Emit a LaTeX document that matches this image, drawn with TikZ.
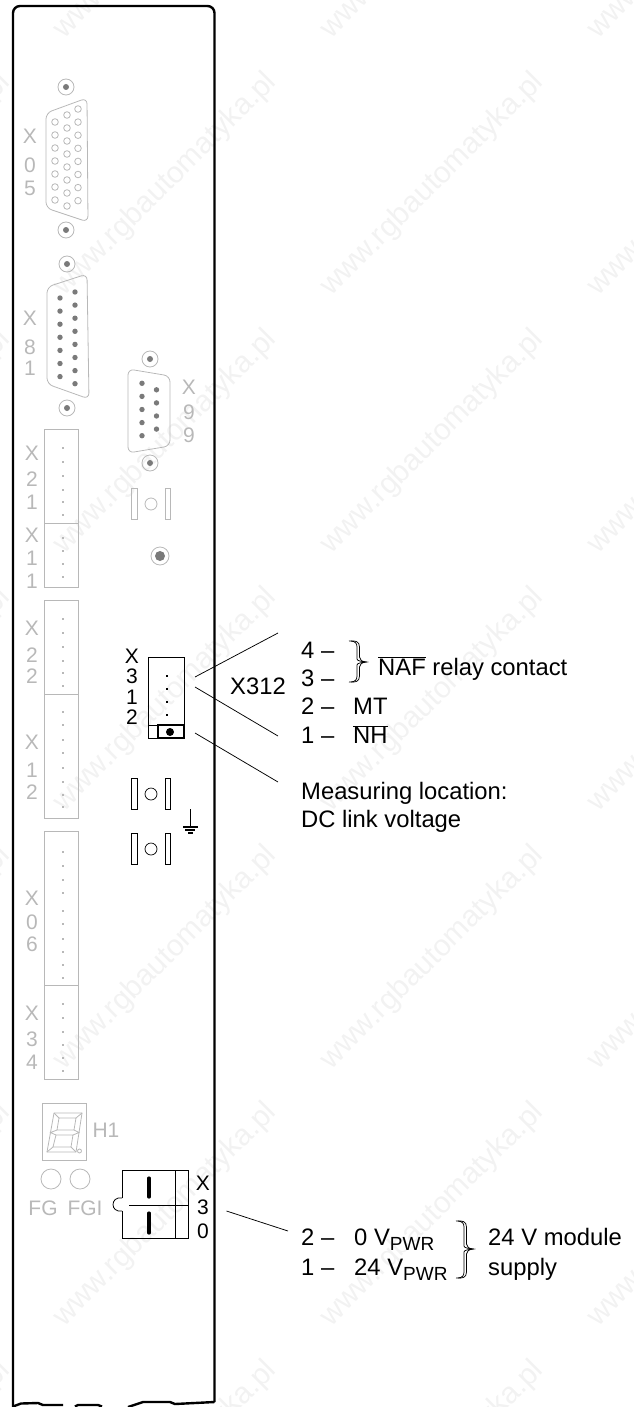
\documentclass[tikz,border=0pt]{standalone}
\usepackage{fontspec}
\setmainfont{Liberation Sans}
\definecolor{panelgray}{gray}{0.72}
\definecolor{taggray}{gray}{0.72}
\definecolor{pingray}{gray}{0.48}
\definecolor{markgray}{gray}{0.95}
\tikzset{
  panel/.style={draw=panelgray,line width=0.8pt},
  lead/.style={draw=black,line width=0.75pt},
  frameline/.style={draw=black,line width=2.4pt},
  lab/.style={anchor=base west,inner sep=0pt,font=\fontsize{23.8}{28}\selectfont},
  tag/.style={anchor=base,inner sep=0pt,text=taggray,font=\fontsize{21}{24}\selectfont},
  blk/.style={anchor=base,inner sep=0pt,font=\fontsize{21}{24}\selectfont},
  webmark/.style={inner sep=0pt,rotate=45,text=markgray,font=\fontsize{30}{32}\selectfont}
}
\newcommand{\rowdots}[2]{\foreach \y in {#2} \fill[panelgray] (#1-1,\y-1) rectangle (#1+1,\y+1);}
\newcommand{\openbrace}[4]{
  \draw[lead] (#1,#2) .. controls (#1+6,#2-.5) and (#1+10.5,#2) .. (#1+10.5,#2+6) -- (#1+10.5,#3-5)
    .. controls (#1+10.5,#3-2) and (#1+13,#3-.5) .. (#1+17,#3)
    .. controls (#1+13,#3+.5) and (#1+10.5,#3+2) .. (#1+10.5,#3+5) -- (#1+10.5,#4-6)
    .. controls (#1+10.5,#4) and (#1+6,#4+.5) .. (#1,#4);
  \draw[lead] (#1+2,#2) .. controls (#1+6,#2+.5) and (#1+8,#2+2) .. (#1+8,#2+6) -- (#1+8,#3-3)
    .. controls (#1+8,#3-1) and (#1+13,#3-.5) .. (#1+17,#3)
    .. controls (#1+13,#3+.5) and (#1+8,#3+1) .. (#1+8,#3+3) -- (#1+8,#4-6)
    .. controls (#1+8,#4-2) and (#1+6,#4-.5) .. (#1+2,#4);
}
\newcommand{\latchpair}[3]{
  \draw[#3] (131.7,#1) rectangle (137,#1+31);
  \draw[#3] (165.5,#1) rectangle (170.5,#1+31);
  \draw[#3] (151,#2) circle (6pt);
}
\begin{document}
\begin{tikzpicture}[x=1pt,y=-1pt]
  \useasboundingbox (0,0) rectangle (633,1407);
  % web address printed across the sheet
  \begin{scope}
    \clip (0,0) rectangle (633,1407);
    \foreach \a in {-101,165.5,432.5,699.5}
      \foreach \b in {-73,184.7,442.4,700,958,1215,1473}
        \node[webmark] at (\a,\b) {www.rgbautomatyka.pl};
  \end{scope}

  % front plate
  \draw[frameline,rounded corners=7pt] (13,1410) -- (13,6) -- (214.5,6) -- (214.5,1402);
  \draw[frameline] (214.5,1402) -- (175,1404) -- (170,1402) -- (143,1402) -- (128,1407);
  \draw[frameline] (13,1406.5) -- (21,1403.5) -- (38,1403) -- (43,1405) -- (63,1405);
  \draw[frameline] (75,1406.5) -- (78,1405) -- (98,1405) -- (102,1406.5);

  % sub-D connectors
  \draw[panel,rounded corners=6pt] (46,113) -- (87,98) -- (88,222) -- (46,208) -- cycle;
  \foreach \y in {0,...,7} \draw[panel] (78,109+13.1*\y) circle (3.3pt);
  \foreach \y in {0,...,7} \draw[panel] (67,115+13*\y) circle (3.3pt);
  \foreach \y in {0,...,6} \draw[panel] (55,122+13*\y) circle (3.3pt);
  \draw[panel,rounded corners=6pt] (47,287) -- (87,274) -- (89,399) -- (47,384) -- cycle;
  \foreach \y in {0,...,7} \fill[pingray] (75,292+13.1*\y) circle (2.7pt);
  \foreach \y in {0,...,6} \fill[pingray] (60,298+13.1*\y) circle (2.7pt);
  \draw[panel,rounded corners=6pt] (128,369) -- (170,376) -- (170,446) -- (128,453) -- cycle;
  \foreach \y in {0,...,4} \fill[pingray] (142,383.3+13.1*\y) circle (2.7pt);
  \foreach \y in {0,...,3} \fill[pingray] (156.5,389.8+13.1*\y) circle (2.7pt);
  \foreach \a/\b in {66/87,66/230,67/264,67/408,150/359,150/463} {
    \draw[panel] (\a,\b) circle (8pt);
    \fill[pingray] (\a,\b) circle (3pt);
  }
  \draw[panel] (160,556) circle (9pt);
  \fill[pingray] (160,556) circle (5pt);
  \latchpair{488}{504}{panel}

  % terminal blocks
  \draw[panel] (44.5,429) rectangle (78.5,523);
  \draw[panel] (44.5,523) rectangle (78.5,587);
  \draw[panel] (44.5,600) rectangle (78.5,694);
  \draw[panel] (44.5,694) rectangle (78.5,818);
  \draw[panel] (44.5,831) rectangle (78.5,985);
  \draw[panel] (44.5,985) rectangle (78.5,1079);
  \rowdots{63}{448,462,476,490,502,515,538,551,564,577}
  \rowdots{63}{619,633,647,661,673,686,712,725,740,753,768,782,795,807}
  \rowdots{63}{852,866,880,893,911,924,939,952,965,978,1004,1018,1032,1045,1058,1071}

  % grey connector names
  \draw
    (30,144) node[tag] (x05a){X} (30,172) node[tag] (x05b){0} (30,196) node[tag] (x05c){5}
    (30,325) node[tag] (x81a){X} (30,354) node[tag] (x81b){8} (30,375) node[tag] (x81c){1}
    (189,394) node[tag] (x99a){X} (189,419) node[tag] (x99b){9} (189,442) node[tag] (x99c){9}
    (32,460) node[tag] (x21a){X} (32,486) node[tag] (x21b){2} (32,509) node[tag] (x21c){1}
    (32,542) node[tag] (x11a){X} (32,565) node[tag] (x11b){1} (32,588) node[tag] (x11c){1}
    (32,635) node[tag] (x22a){X} (32,662) node[tag] (x22b){2} (32,683) node[tag] (x22c){2}
    (32,749) node[tag] (x12a){X} (32,777) node[tag] (x12b){1} (32,799) node[tag] (x12c){2}
    (32,905) node[tag] (x06a){X} (32,929) node[tag] (x06b){0} (32,951) node[tag] (x06c){6}
    (32,1020) node[tag] (x34a){X} (32,1046) node[tag] (x34b){3} (32,1069) node[tag] (x34c){4}
    (106,1137) node[tag] (h1){H1}
    (43,1215) node[tag] (fg){FG}
    (85,1215) node[tag] (fgi){FGI};

  % display and LEDs
  \draw[panel] (42.3,1103) rectangle (86,1160);
  \draw[panel,line join=round] (54,1113) -- (82,1113) -- (79,1132.5) -- (76,1152) -- (47,1152) -- (50.5,1132.5) -- cycle;
  \draw[panel] (59,1118) -- (76,1118) -- (74,1130) -- (57,1130) -- cycle;
  \draw[panel] (56,1135) -- (73,1135) -- (71,1147) -- (53,1147) -- cycle;
  \draw[panel] (54,1113) -- (59,1118) (82,1113) -- (76,1118) (57,1130) -- (50.5,1132.5) -- (56,1135)
    (74,1130) -- (79,1132.5) -- (73,1135) (53,1147) -- (47,1152) (71,1147) -- (76,1152);
  \draw[panel] (79.5,1151) circle (2pt);
  \draw[panel] (51,1179) circle (10pt);
  \draw[panel] (80,1179) circle (10pt);

  % X312 block
  \draw[line width=0.7pt] (148,657) rectangle (184,738);
  \draw[line width=0.7pt] (148,725) -- (184,725);
  \draw[line width=1.6pt] (158,725) rectangle (184,738);
  \fill (170,732) circle (4pt);
  \foreach \y in {676,689,702,715} \fill (166,\y-1.2) rectangle (168.4,\y+1.2);
  \draw
    (132,663) node[blk] (x312a){X} (132,683.5) node[blk] (x312b){3}
    (132,704) node[blk] (x312c){1} (132,724.5) node[blk] (x312d){2};
  \latchpair{778}{794}{line width=0.7pt}
  \latchpair{833}{849}{line width=0.7pt}

  % protective earth
  \coordinate (pe1) at (190,809);
  \coordinate (pe2) at (190,827);
  \draw[line width=0.9pt] (pe1) -- (pe2);
  \draw[line width=1.4pt] (183,827) -- (198,827) (185,830) -- (195,830) (188,833) -- (193,833);

  % X30 block
  \draw[line width=0.8pt] (122,1198) -- (122,1170) -- (188,1170) -- (188,1238) -- (122,1238) -- (122,1211);
  \draw[line width=0.8pt] (122,1198) .. controls (110,1196) and (110,1213) .. (122,1211);
  \draw[line width=0.8pt] (175,1170) -- (175,1238);
  \draw[line width=0.8pt] (129,1205) -- (188,1205);
  \draw[line width=3.2pt,line cap=round] (149,1178) -- (149,1197) (149,1213) -- (149,1233);
  \draw
    (203,1190.5) node[blk] (x30a){X} (203,1214) node[blk] (x30b){3} (203,1238) node[blk] (x30c){0};

  % leader ends
  \coordinate (l1a) at (195,677);
  \coordinate (l1b) at (278,633);
  \coordinate (l2a) at (195,687);
  \coordinate (l2b) at (278,736);
  \coordinate (l3a) at (195,733);
  \coordinate (l3b) at (278,782);
  \coordinate (l4a) at (226.5,1211);
  \coordinate (l4b) at (288,1231);
  \begin{scope}[-]
    \draw[lead] (l1a) to (l1b);
    \draw[lead] (l2a) to (l2b);
    \draw[lead] (l3a) to (l3b);
    \draw[lead] (l4a) to (l4b);
  \end{scope}

  % pin assignment
  \draw
    (230,694.5) node[lab] (x312){X312}
    (301,658.5) node[lab] (p4){4 --}
    (301,686.5) node[lab] (p3){3 --}
    (301,714.5) node[lab] (p2){2 --}
    (301,743.5) node[lab] (p1){1 --}
    (378,675) node[lab] (naf){$\overline{\mbox{NAF}}$ relay contact}
    (353,714.5) node[lab] (mt){MT}
    (353,743.5) node[lab] (nh){$\overline{\mbox{NH}}$}
    (301,799) node[lab] (meas){Measuring location:}
    (301,827.5) node[lab] (dclink){DC link voltage}
    (301,1245.5) node[lab] (v2){2 --}
    (301,1275.5) node[lab] (v1){1 --}
    (354,1245.5) node[lab] (v0){0 V{\fontsize{19}{20}\selectfont\raisebox{-4.5pt}{PWR}}}
    (354,1275.5) node[lab] (v24){24 V{\fontsize{19}{20}\selectfont\raisebox{-4.5pt}{PWR}}}
    (488,1245.5) node[lab] (sup1){24 V module}
    (488,1275.5) node[lab] (sup2){supply};
  \openbrace{349}{641}{662}{682}
  \openbrace{456}{1221}{1249}{1278}
\end{tikzpicture}
\end{document}
